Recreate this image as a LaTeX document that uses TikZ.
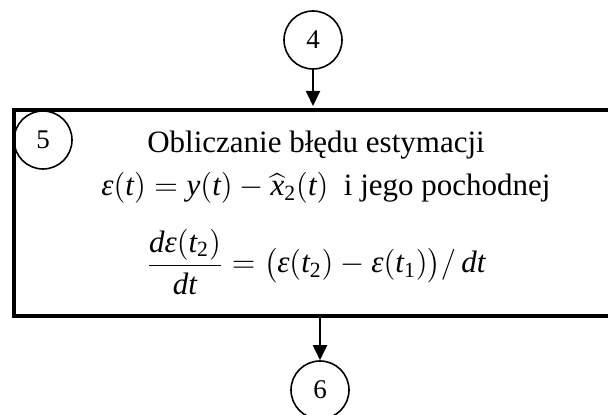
\documentclass[tikz,border=0pt]{standalone}
\usepackage{fix-cm}
\usepackage{amsmath}
\usepackage{fontspec}
\setmainfont{Liberation Serif}
\usetikzlibrary{arrows.meta}
\newcommand{\mv}[1]{\text{\itshape #1}}

\begin{document}
\begin{tikzpicture}[
	x=0.5pt, y=-0.5pt,
	connector/.style={
		draw,
		circle,
		line width=0.8pt,
		minimum size=29pt,
		inner sep=0pt,
		font=\fontsize{13.5}{16}\selectfont
	},
	process/.style={
		draw,
		rectangle,
		line width=2pt,
		minimum width=313pt,
		minimum height=103pt
	},
	textline/.style={
		font=\fontsize{15.5}{18}\selectfont,
		anchor=base,
		inner sep=0pt
	},
	flow/.style={line width=1pt,-{Triangle[length=7.5pt,width=7pt]}}
	]
	\clip (0,0) rectangle (608,415);
	\node[process] (box) at (327,213) {};
	\node[connector] (c4) at (313,40) {4};
	\node[connector] (c5) at (43,140) {5};
	\node[connector] (c6) at (320,390) {6};
	
	\node[textline] (title) at (316,153) {Obliczanie błędu estymacji};
	\node[textline] (error) at (326,196) {$\mv{ε}(\mv{t}) = \mv{y}(\mv{t}) - \widehat{\mv{x}}_{\text{2}}(\mv{t})$\ \ i jego pochodnej};
	\node[textline] (deriv) at (316,273) {$\dfrac{\mv{d}\mv{ε}(\mv{t}_{\text{2}})}{\mv{dt}} = \bigl(\mv{ε}(\mv{t}_{\text{2}}) - \mv{ε}(\mv{t}_{\text{1}})\bigr)/\,\mv{dt}$};
	
	\draw[flow] (c4) -- ([yshift=1pt]c4 |- box.north);
	\draw[flow] (box.south -| c6) -- (c6);
\end{tikzpicture}
\end{document}
